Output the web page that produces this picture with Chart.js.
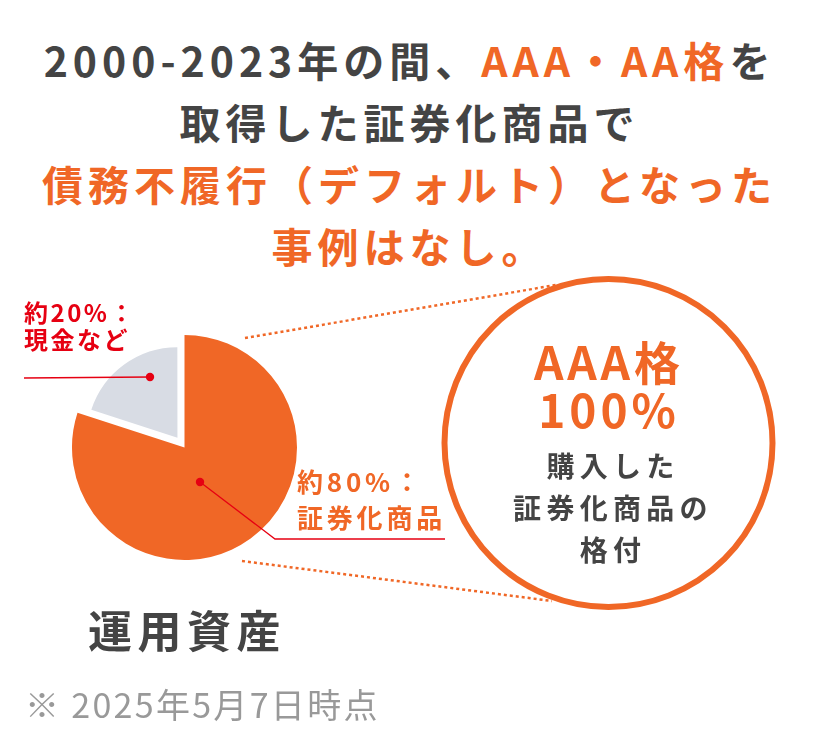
<!DOCTYPE html>
<html lang="ja">
<head>
  <meta charset="UTF-8">
  <title>運用資産</title>
  <script src="https://cdn.jsdelivr.net/npm/chart.js"></script>
  <style>
    html, body { margin: 0; padding: 0; background: #fff; }
    body { width: 813px; height: 743px; position: relative; overflow: hidden; font-family: "Noto Sans CJK JP", sans-serif; color: #444; }
    .t { position: absolute; white-space: nowrap; font-weight: 700; }
    .c { text-align: center; }
    .o { color: #F06726; }
    .r { color: #E60012; }
    #title { left: 3px; width: 813px; top: 28px; font-size: 41px; line-height: 62px; letter-spacing: 5px; text-align: center; }
    #pie { position: absolute; left: 47.5px; top: 310.5px; width: 273px; height: 273px; }
    svg { position: absolute; left: 0; top: 0; }
  </style>
</head>
<body>
  <div class="t" id="title">
    2000-2023年の間、<span class="o">AAA・AA格</span>を<br>
    取得した証券化商品で<br>
    <span class="o">債務不履行（デフォルト）となった<br>事例はなし。</span>
  </div>

  <div id="pie"><canvas id="grafico"></canvas></div>

  <svg width="813" height="743">
    <line x1="245" y1="338" x2="556" y2="285" stroke="#F06726" stroke-width="2.5" stroke-dasharray="3 3"/>
    <line x1="242" y1="561" x2="552" y2="601" stroke="#F06726" stroke-width="2.5" stroke-dasharray="3 3"/>
    <circle cx="608.5" cy="443" r="164" fill="#fff" stroke="#F06726" stroke-width="6"/>
    <polyline points="24,378 150,377" fill="none" stroke="#E60012" stroke-width="1.3"/>
    <circle cx="150" cy="377" r="4.2" fill="#E60012"/>
    <polyline points="200,482 275,539 445,539" fill="none" stroke="#E60012" stroke-width="1.3"/>
    <circle cx="200" cy="482" r="4.2" fill="#E60012"/>
  </svg>

  <div class="t r" style="left:24px;top:298px;font-size:24px;line-height:27px;letter-spacing:2.5px">約20%：<br>現金など</div>
  <div class="t o" style="left:297px;top:463px;font-size:26px;line-height:36px;letter-spacing:3.8px">約80%：<br>証券化商品</div>

  <div class="t o c" style="left:446px;width:326px;top:336px;font-size:46px;line-height:48px;letter-spacing:4px">AAA格<br>100%</div>
  <div class="t c" style="left:450px;width:326px;top:444px;font-size:28px;line-height:42px;letter-spacing:5.3px">購入した<br>証券化商品の<br>格付</div>

  <div class="t" style="left:88px;top:599px;font-size:44px;line-height:60px;letter-spacing:5.5px">運用資産</div>
  <div class="t" style="left:25px;top:681px;font-size:34px;line-height:46px;font-weight:400;letter-spacing:2.3px;color:#999">※ 2025年5月7日時点</div>

  <script>
    const categorias = ['証券化商品', '現金など'];
    const valores    = [80, 20];
    const cores      = ['#F06726', '#D8DCE4'];
    const deslocamentos = [0, 48];

    // the cash slice is drawn with a smaller radius than the main one
    const raioMenor = {
      id: 'raioMenor',
      afterDatasetsUpdate(chart) {
        const arc = chart.getDatasetMeta(0).data[1];
        arc.outerRadius = arc.outerRadius * 0.8;
      }
    };

    new Chart(document.getElementById('grafico'), {
      type: 'pie',
      data: {
        labels: categorias,
        datasets: [{ data: valores, backgroundColor: cores, offset: deslocamentos, borderWidth: 0 }]
      },
      options: {
        responsive: true,
        maintainAspectRatio: true,
        animation: false,
        plugins: { legend: { display: false }, tooltip: { enabled: false } }
      },
      plugins: [raioMenor]
    });
  </script>
</body>
</html>
